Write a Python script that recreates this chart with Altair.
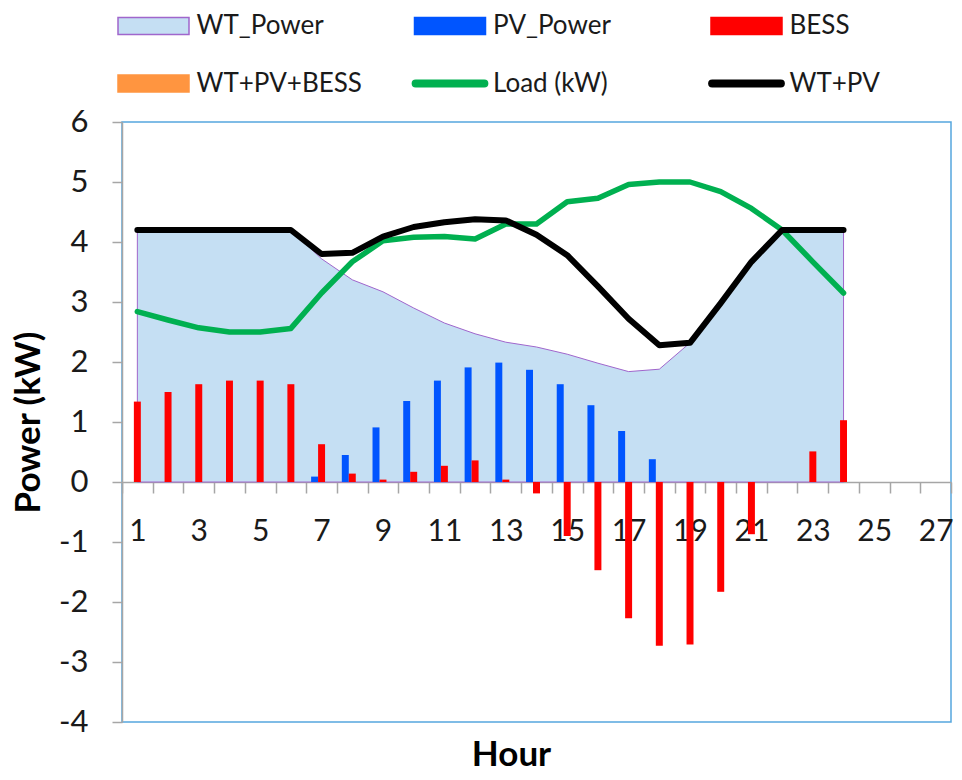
import altair as alt
import pandas as pd

# ---------------- data ----------------
hours = list(range(1, 25))
hour_domain = list(range(1, 28))

wt_power = [4.20, 4.20, 4.20, 4.20, 4.20, 4.20, 3.72, 3.37, 3.17, 2.90, 2.65, 2.47,
            2.33, 2.25, 2.13, 1.98, 1.84, 1.88, 2.32, 2.98, 3.67, 4.20, 4.20, 4.20]
pv_power = [0, 0, 0, 0, 0, 0, 0.09, 0.45, 0.91, 1.35, 1.69, 1.91,
            1.99, 1.87, 1.63, 1.28, 0.85, 0.38, 0, 0, 0, 0, 0, 0]
bess = [1.34, 1.50, 1.63, 1.69, 1.69, 1.63, 0.63, 0.14, 0.04, 0.17, 0.27, 0.36,
        0.04, -0.19, -0.90, -1.47, -2.27, -2.73, -2.71, -1.83, -0.87, 0.0, 0.51, 1.03]
load = [2.84, 2.70, 2.57, 2.50, 2.50, 2.56, 3.15, 3.67, 4.02, 4.08, 4.09, 4.05,
        4.30, 4.30, 4.67, 4.73, 4.96, 5.00, 5.00, 4.84, 4.56, 4.20, 3.67, 3.15]
wt_pv = [4.20, 4.20, 4.20, 4.20, 4.20, 4.20, 3.80, 3.82, 4.09, 4.25, 4.33, 4.38,
         4.36, 4.12, 3.78, 3.26, 2.72, 2.28, 2.32, 2.98, 3.67, 4.20, 4.20, 4.20]

y_ticks = [-4, -3, -2, -1, 0, 1, 2, 3, 4, 5, 6]

series_names = ["WT_Power", "PV_Power", "BESS", "WT+PV+BESS", "Load (kW)", "WT+PV"]
bar_series = ["PV_Power", "BESS", "WT+PV+BESS"]

# ---------------- styles ----------------
C_AREA = "#C5DFF3"
C_AREA_LINE = "#A066CC"
C_PV = "#0055FF"
C_BESS = "#FF0000"
C_ALL = "#FF9540"
C_LOAD = "#00B050"
C_WTPV = "#000000"
C_AXIS = "#A6A6A6"
C_BORDER = "#55A6DE"
FONT = "Lato"

W, H = 829, 600
Y_MIN, Y_MAX = -4, 6

# ---------------- tables ----------------
df_wt = pd.DataFrame({"hour": hours, "value": wt_power})
df_bars = pd.concat([
    pd.DataFrame({"hour": hours, "series": "PV_Power", "value": pv_power}),
    pd.DataFrame({"hour": hours, "series": "BESS", "value": bess}),
])
df_load = pd.DataFrame({"hour": hours, "value": load})
df_wtpv = pd.DataFrame({"hour": hours, "value": wt_pv})

x_scale = alt.Scale(domain=hour_domain, paddingInner=0, paddingOuter=0)
y_scale = alt.Scale(domain=[Y_MIN, Y_MAX], nice=False, zero=False)

x_axis = alt.Axis(
    offset=-H * (0 - Y_MIN) / (Y_MAX - Y_MIN),
    tickBand="extent",
    labelExpr="datum.value % 2 == 1 ? datum.label : ''",
    labelAngle=0,
    labelFont=FONT, labelFontSize=30, labelColor="#1a1a1a",
    labelBaseline="middle", labelPadding=38,
    domainColor=C_AXIS, domainWidth=1.5,
    tickColor=C_AXIS, tickWidth=1.5, tickSize=11,
    title="Hour", titleFont=FONT, titleFontSize=35, titleFontWeight="bold",
    titleColor="#000000",
    titleX=389, titleY=272, titleAlign="center", titleBaseline="middle",
    labelOverlap=False,
)
y_axis = alt.Axis(
    values=y_ticks, grid=False,
    labelExpr="toString(datum.value)",
    labelFont=FONT, labelFontSize=31, labelColor="#1a1a1a", labelPadding=24,
    domainColor=C_AXIS, domainWidth=1.5,
    tickColor=C_AXIS, tickWidth=1.5, tickSize=10,
    title="Power (kW)", titleFont=FONT, titleFontSize=35, titleFontWeight="bold",
    titleColor="#000000",
    titleX=-94, titleY=H / 2, titleAngle=-90, titleAlign="center", titleBaseline="middle",
)

area = alt.Chart(df_wt).mark_area(
    color=C_AREA, stroke=C_AREA_LINE, strokeWidth=1, opacity=1
).encode(
    x=alt.X("hour:O", scale=x_scale, axis=x_axis, bandPosition=0.5),
    y=alt.Y("value:Q", scale=y_scale, axis=y_axis),
)

bars = alt.Chart(df_bars).mark_bar().encode(
    x=alt.X("hour:O", scale=x_scale, axis=x_axis),
    xOffset=alt.XOffset("series:N", scale=alt.Scale(domain=bar_series, paddingInner=0, paddingOuter=0.70)),
    y=alt.Y("value:Q", scale=y_scale, axis=y_axis),
    color=alt.Color("series:N", scale=alt.Scale(domain=bar_series, range=[C_PV, C_BESS, C_ALL]), legend=None),
)

line_load = alt.Chart(df_load).mark_line(
    color=C_LOAD, strokeWidth=5.5, strokeJoin="round", strokeCap="round"
).encode(
    x=alt.X("hour:O", scale=x_scale, axis=x_axis, bandPosition=0.5),
    y=alt.Y("value:Q", scale=y_scale, axis=y_axis),
)

line_wtpv = alt.Chart(df_wtpv).mark_line(
    color=C_WTPV, strokeWidth=6, strokeJoin="round", strokeCap="round"
).encode(
    x=alt.X("hour:O", scale=x_scale, axis=x_axis, bandPosition=0.5),
    y=alt.Y("value:Q", scale=y_scale, axis=y_axis),
)

main = alt.layer(area, bars, line_load, line_wtpv).properties(
    width=W, height=H,
    view=alt.ViewBackground(stroke=C_BORDER, strokeWidth=1.5),
)

# ---------------- legend ----------------
RECT = "M-1,-0.24H1V0.24H-1Z"
LINE = "M-0.966,-0.094H0.966A0.094,0.094 0 0 1 0.966,0.094H-0.966A0.094,0.094 0 0 1 -0.966,-0.094Z"
df_leg = pd.DataFrame({
    "name": series_names,
    "col": [i % 3 for i in range(len(series_names))],
    "row": [i // 3 for i in range(len(series_names))],
})
LEG_W, LEG_H = W, 96.5
COL_STEP, ROW_STEP = 296.5, 57.5
x0 = -31.5 / COL_STEP
y0 = -18.0 / ROW_STEP
leg_x = alt.Scale(domain=[x0, x0 + LEG_W / COL_STEP], nice=False, zero=False)
leg_y = alt.Scale(domain=[y0, y0 + LEG_H / ROW_STEP], nice=False, zero=False, reverse=True)

leg_sym = alt.Chart(df_leg).mark_point(filled=True, size=5041, opacity=1, strokeWidth=1.5).encode(
    x=alt.X("col:Q", scale=leg_x, axis=None),
    y=alt.Y("row:Q", scale=leg_y, axis=None),
    shape=alt.Shape("name:N", scale=alt.Scale(domain=series_names, range=[RECT, RECT, RECT, RECT, LINE, LINE]), legend=None),
    fill=alt.Fill("name:N", scale=alt.Scale(domain=series_names, range=[C_AREA, C_PV, C_BESS, C_ALL, C_LOAD, C_WTPV]), legend=None),
    stroke=alt.Stroke("name:N", scale=alt.Scale(domain=series_names, range=[C_AREA_LINE, C_PV, C_BESS, C_ALL, C_LOAD, C_WTPV]), legend=None),
)
leg_txt = alt.Chart(df_leg).mark_text(
    align="left", baseline="middle", dx=43, font=FONT, fontSize=26, color="#1a1a1a"
).encode(
    x=alt.X("col:Q", scale=leg_x, axis=None),
    y=alt.Y("row:Q", scale=leg_y, axis=None),
    text="name:N",
)
legend = alt.layer(leg_sym, leg_txt).properties(width=LEG_W, height=LEG_H)

chart = alt.vconcat(legend, main, spacing=0).properties(
    padding={"left": 2, "top": 0, "right": 0, "bottom": 0}
).configure_view(strokeWidth=0)

chart.save("out.html", embed_options={"renderer": "svg", "actions": False})
